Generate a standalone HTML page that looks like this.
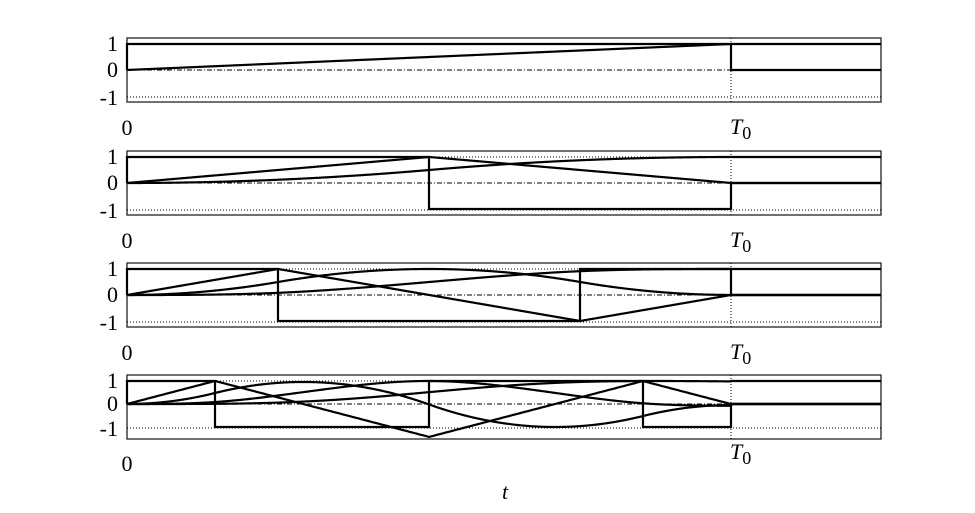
<!DOCTYPE html>
<html><head><meta charset="utf-8"><style>
html,body{margin:0;padding:0;background:#fff;width:975px;height:513px;overflow:hidden}
svg{display:block}
text{font-family:"Liberation Serif",serif;font-size:22px;fill:#000}
</style></head><body>
<svg id="s" width="975" height="513" viewBox="0 0 975 513" xmlns="http://www.w3.org/2000/svg"></svg>
<script>
var s=document.getElementById('s');
var NS='http://www.w3.org/2000/svg';
function el(n,a,t){var e=document.createElementNS(NS,n);for(var k in a)e.setAttribute(k,a[k]);if(t!=null)e.textContent=t;s.appendChild(e);return e;}
var X0=127,XT=731,XR=881,W=XT-X0;
var panels=[
 {top:38,bot:102,y1:44,y0:70,ym:97,br:[]},
 {top:151,bot:215,y1:157,y0:183,ym:210,br:[0.5]},
 {top:263,bot:327,y1:269,y0:295,ym:322,br:[0.25,0.75]},
 {top:375,bot:439,y1:381,y0:404,ym:428,br:[0.1457,0.5,0.8543]}
];
var N=3000;
panels.forEach(function(p,pi){
 var sc=(p.y0-p.y1);
 function Y(v){return p.y0-v*sc;}
 el('rect',{x:X0,y:p.top,width:XR-X0,height:p.bot-p.top,fill:'none',stroke:'#222','stroke-width':1.3});
 el('line',{x1:X0,y1:p.y1,x2:XR,y2:p.y1,stroke:'#000','stroke-width':1,'stroke-dasharray':'1,2'});
 el('line',{x1:X0,y1:p.ym,x2:XR,y2:p.ym,stroke:'#000','stroke-width':1,'stroke-dasharray':'1,2'});
 el('line',{x1:X0,y1:p.y0,x2:XT,y2:p.y0,stroke:'#000','stroke-width':1,'stroke-dasharray':'5,2,1,2'});
 el('line',{x1:XT,y1:p.top,x2:XT,y2:p.bot,stroke:'#000','stroke-width':1,'stroke-dasharray':'1,2'});
 var pts=[0].concat(p.br).concat([1]);
 var d='M'+X0+','+Y(0);var sg=1;
 for(var i=0;i<pts.length-1;i++){
  d+=' L'+(X0+pts[i]*W)+','+Y(sg)+' L'+(X0+pts[i+1]*W)+','+Y(sg);
  if(i<pts.length-2){sg=-sg;}
 }
 d+=' L'+XT+','+Y(0)+' L'+XR+','+Y(0);
 el('path',{d:d,fill:'none',stroke:'#000','stroke-width':2.2});
 var f=[];for(var j=0;j<=N;j++){var t=j/N;var c=0;for(var k=0;k<p.br.length;k++)if(t>p.br[k])c++;f.push(c%2?-1:1);}
 var nInt=p.br.length+1;
 var cur=f;
 for(var m=0;m<nInt;m++){
  var g=[0];for(var j=1;j<=N;j++)g.push(g[j-1]+(cur[j-1]+cur[j])/2/N);
  var norm;
  if(m==0&&p.br.length>0){norm=Math.abs(g[Math.round(p.br[0]*N)]);}
  else{norm=0;for(var j=0;j<=N;j++)norm=Math.max(norm,Math.abs(g[j]));}
  var gn=g.map(function(v){return v/norm;});
  var dd='';for(var j=0;j<=N;j+=5){dd+=(j?' L':'M')+(X0+j/N*W).toFixed(2)+','+Y(gn[j]).toFixed(2);}
  var last=(m==nInt-1)?1:0;
  dd+=' L'+XT+','+Y(last)+' L'+XR+','+Y(last);
  el('path',{d:dd,fill:'none',stroke:'#000','stroke-width':2.2,'stroke-linejoin':'round'});
  cur=g;
 }
 el('text',{x:118,y:p.y1+7,'text-anchor':'end'},'1');
 el('text',{x:118,y:p.y0+7,'text-anchor':'end'},'0');
 el('text',{x:118,y:p.ym+8,'text-anchor':'end'},'-1');
 var ly=(pi==3)?471:p.bot+33;
 el('text',{x:127,y:ly,'text-anchor':'middle','font-size':23},'0');
 var tl=el('text',{x:730,y:(pi==3)?459:p.bot+32,'font-size':24});
 var a=document.createElementNS(NS,'tspan');a.setAttribute('font-style','italic');a.textContent='T';tl.appendChild(a);
 var b=document.createElementNS(NS,'tspan');b.setAttribute('font-size','18');b.setAttribute('dy','5');b.textContent='0';tl.appendChild(b);
});
el('text',{x:505,y:499,'text-anchor':'middle','font-style':'italic','font-size':24},'t');
</script>
</body></html>
